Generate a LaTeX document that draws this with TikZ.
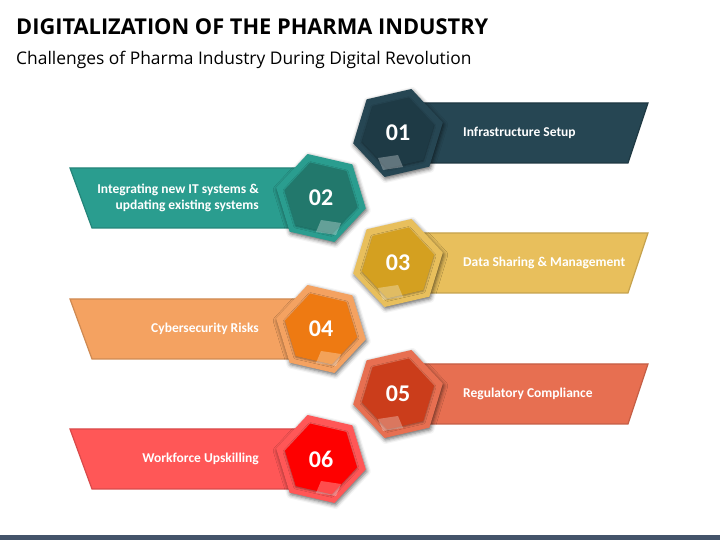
\documentclass[tikz,border=0pt]{standalone}
\usepackage{fontspec}
\setmainfont{Carlito}
\newfontfamily\titlefont{Open Sans}
\usepackage{xcolor}
\usepackage{tikz}
\usetikzlibrary{shapes,positioning,calc,shadows.blur}

\definecolor{c1}{HTML}{264653}
\definecolor{c1in}{HTML}{1E3A45}
\definecolor{c2}{HTML}{2A9D8F}
\definecolor{c2in}{HTML}{22786C}
\definecolor{c3}{HTML}{E8BF5C}
\definecolor{c3in}{HTML}{D4A020}
\definecolor{c4}{HTML}{F4A261}
\definecolor{c4in}{HTML}{EE7A12}
\definecolor{c5}{HTML}{E76F51}
\definecolor{c5in}{HTML}{CB3D1B}
\definecolor{c6}{HTML}{FF5757}
\definecolor{c6in}{HTML}{FE0000}
\definecolor{barcol}{HTML}{44546A}

\begin{document}
\begin{tikzpicture}[x=1pt, y=1pt]
\tikzstyle{band}=[line width=1.2pt, line join=miter]
\tikzstyle{hexout}=[regular polygon, regular polygon sides=6, minimum size=92pt, inner sep=0pt,
  blur shadow={shadow xshift=1pt, shadow yshift=-2pt, shadow blur radius=4pt, shadow opacity=60}]
\tikzstyle{hexin}=[regular polygon, regular polygon sides=6, minimum size=74pt, inner sep=0pt,
  text=white, font=\fontsize{24}{24}\selectfont\bfseries,
  blur shadow={shadow xshift=0pt, shadow yshift=-1pt, shadow blur radius=2pt, shadow opacity=40}]
\tikzstyle{patch}=[fill=white, opacity=0.3]
\tikzstyle{itemtext}=[text=white, font=\fontsize{13.5}{16}\selectfont\bfseries, inner sep=0pt]

\useasboundingbox (0,0) rectangle (720,540);

% title
\node[anchor=base west, inner sep=0pt, font=\titlefont\fontsize{21.8}{26}\selectfont\bfseries] (title) at (16,505) {DIGITALIZATION OF THE PHARMA INDUSTRY};
\node[anchor=base west, inner sep=0pt, font=\titlefont\fontsize{17.4}{21}\selectfont] (subtitle) at (16,475) {Challenges of Pharma Industry During Digital Revolution};

% 01
\draw[band, fill=c1, draw=c1!80!black] (398,437) -- (648,437) -- (628,377) -- (398,377) -- cycle;
\node[hexout, fill=c1, shape border rotate=13] (h1) at (398,407) {};
\node[hexin, fill=c1in, shape border rotate=13] (n1) at (h1) {01};
\fill[patch] ($(n1)+(-15,-37)$) -- ++(20,3) -- ++(-5,12) -- ++(-20,-3) -- cycle;
\node[itemtext, anchor=west] (t1) at (463,407) {Infrastructure Setup};

% 02
\draw[band, fill=c2, draw=c2!85!black] (70,372) -- (321,372) -- (321,312) -- (92,312) -- cycle;
\node[hexout, fill=c2, shape border rotate=-13] (h2) at (321,342) {};
\node[hexin, fill=c2in, shape border rotate=-13] (n2) at (h2) {02};
\fill[patch] ($(n2)+(15,-37)$) -- ++(-20,3) -- ++(5,12) -- ++(20,-3) -- cycle;
\node[itemtext, anchor=east, align=right] (t2) at (259,342) {Integrating new IT systems \&\\updating existing systems};

% 03
\draw[band, fill=c3, draw=c3!85!black] (398,307) -- (648,307) -- (628,247) -- (398,247) -- cycle;
\node[hexout, fill=c3, shape border rotate=13] (h3) at (398,277) {};
\node[hexin, fill=c3in, shape border rotate=13] (n3) at (h3) {03};
\fill[patch] ($(n3)+(-15,-37)$) -- ++(20,3) -- ++(-5,12) -- ++(-20,-3) -- cycle;
\node[itemtext, anchor=west] (t3) at (463,277) {Data Sharing \& Management};

% 04
\draw[band, fill=c4, draw=c4!85!black] (70,241) -- (321,241) -- (321,181) -- (92,181) -- cycle;
\node[hexout, fill=c4, shape border rotate=-13] (h4) at (321,211) {};
\node[hexin, fill=c4in, shape border rotate=-13] (n4) at (h4) {04};
\fill[patch] ($(n4)+(15,-37)$) -- ++(-20,3) -- ++(5,12) -- ++(20,-3) -- cycle;
\node[itemtext, anchor=east] (t4) at (259,211) {Cybersecurity Risks};

% 05
\draw[band, fill=c5, draw=c5!85!black] (398,176) -- (648,176) -- (628,116) -- (398,116) -- cycle;
\node[hexout, fill=c5, shape border rotate=13] (h5) at (398,146) {};
\node[hexin, fill=c5in, shape border rotate=13] (n5) at (h5) {05};
\fill[patch] ($(n5)+(-15,-37)$) -- ++(20,3) -- ++(-5,12) -- ++(-20,-3) -- cycle;
\node[itemtext, anchor=west] (t5) at (463,146) {Regulatory Compliance};

% 06
\draw[band, fill=c6, draw=c6!85!black] (70,111) -- (321,111) -- (321,51) -- (92,51) -- cycle;
\node[hexout, fill=c6, shape border rotate=-13] (h6) at (321,81) {};
\node[hexin, fill=c6in, shape border rotate=-13] (n6) at (h6) {06};
\fill[patch] ($(n6)+(15,-37)$) -- ++(-20,3) -- ++(5,12) -- ++(20,-3) -- cycle;
\node[itemtext, anchor=east] (t6) at (259,81) {Workforce Upskilling};

% bottom bar
\fill[barcol] (0,0) rectangle (720,5);
\end{tikzpicture}
\end{document}
